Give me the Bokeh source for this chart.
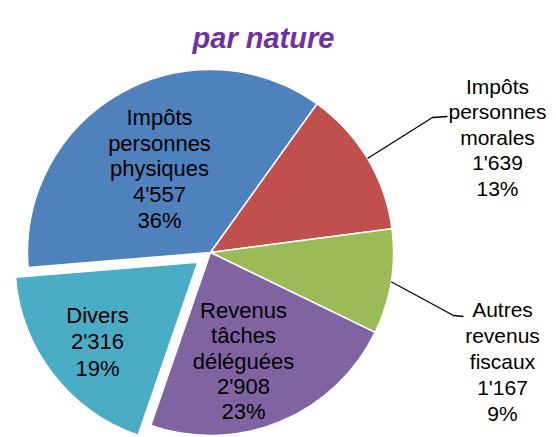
import math
from bokeh.plotting import figure
from bokeh.models import Range1d
from bokeh.core.properties import value
from bokeh.embed import file_html
from bokeh.resources import INLINE

# ---- data ----
categories = ["Impôts personnes physiques", "Impôts personnes morales",
              "Autres revenus fiscaux", "Revenus tâches déléguées", "Divers"]
label_lines = [["Impôts", "personnes", "physiques"],
               ["Impôts", "personnes", "morales"],
               ["Autres", "revenus", "fiscaux"],
               ["Revenus", "tâches", "déléguées"],
               ["Divers"]]
values = [4557, 1639, 1167, 2908, 2316]
percents = ["36%", "13%", "9%", "23%", "19%"]
title = "par nature"

# ---- style / layout ----
colors = ["#4F81BD", "#C0504D", "#9BBB59", "#8064A2", "#4BACC6"]
explode = [0, 0, 0, 0, 16]
first_angle = 265.3          # clockwise from 12 o'clock
CX, CY, R = 210, 437 - 252, 183
FONT = "Liberation Sans"
# label anchors (x, y of first line in image coords, line step, font size)
label_pos = [(159, 117, 25.7, "22px"),
             (497, 86, 25.4, "21px"),
             (502, 309, 26.0, "21px"),
             (243, 310, 25.3, "22px"),
             (97, 315, 26.3, "22px")]

W, H = 556, 437
p = figure(width=W, height=H, output_backend="svg", toolbar_location=None,
           x_range=Range1d(0, W), y_range=Range1d(437 - H, 437),
           x_axis_type=None, y_axis_type=None, min_border=0,
           outline_line_color=None, background_fill_color="white")
p.grid.visible = False

total = sum(values)
theta = first_angle
mids = []
for i, v in enumerate(values):
    span = v / total * 360.0
    t1, t2 = theta, theta + span
    mid = (t1 + t2) / 2
    mids.append(mid)
    dx = explode[i] * math.sin(math.radians(mid))
    dy = explode[i] * math.cos(math.radians(mid))
    p.wedge(x=CX + dx, y=CY + dy, radius=R,
            start_angle=90 - t2, end_angle=90 - t1, start_angle_units="deg",
            end_angle_units="deg", direction="anticlock",
            fill_color=colors[i], line_color="white", line_width=1.5)
    theta = t2

# labels
for i, lines in enumerate(label_lines):
    txt = lines + [f"{values[i]:,}".replace(",", "'"), percents[i]]
    x0, y0, step, fs = label_pos[i]
    for k, t in enumerate(txt):
        p.text(x=[x0], y=[437 - (y0 + k * step)], text=[t],
               text_font=value(FONT), text_font_size=fs, text_color="black",
               text_align="center", text_baseline="middle")

# leader lines for outside labels (red, green)
leaders = {1: [(432, 117), (447, 116)], 2: [(453, 315), (463, 316)]}
for i, pts in leaders.items():
    m = math.radians(mids[i])
    sx = CX + R * math.sin(m)
    sy = CY + R * math.cos(m)
    xs = [sx] + [q[0] for q in pts]
    ys = [sy] + [437 - q[1] for q in pts]
    p.line(xs, ys, line_color="black", line_width=1.3)

# title
p.text(x=[263], y=[437 - 37], text=[title], text_font=value(FONT),
       text_font_size="29px", text_font_style="bold italic",
       text_color="#7030A0", text_align="center", text_baseline="alphabetic")

open("out.html", "w").write(file_html(p, INLINE))
